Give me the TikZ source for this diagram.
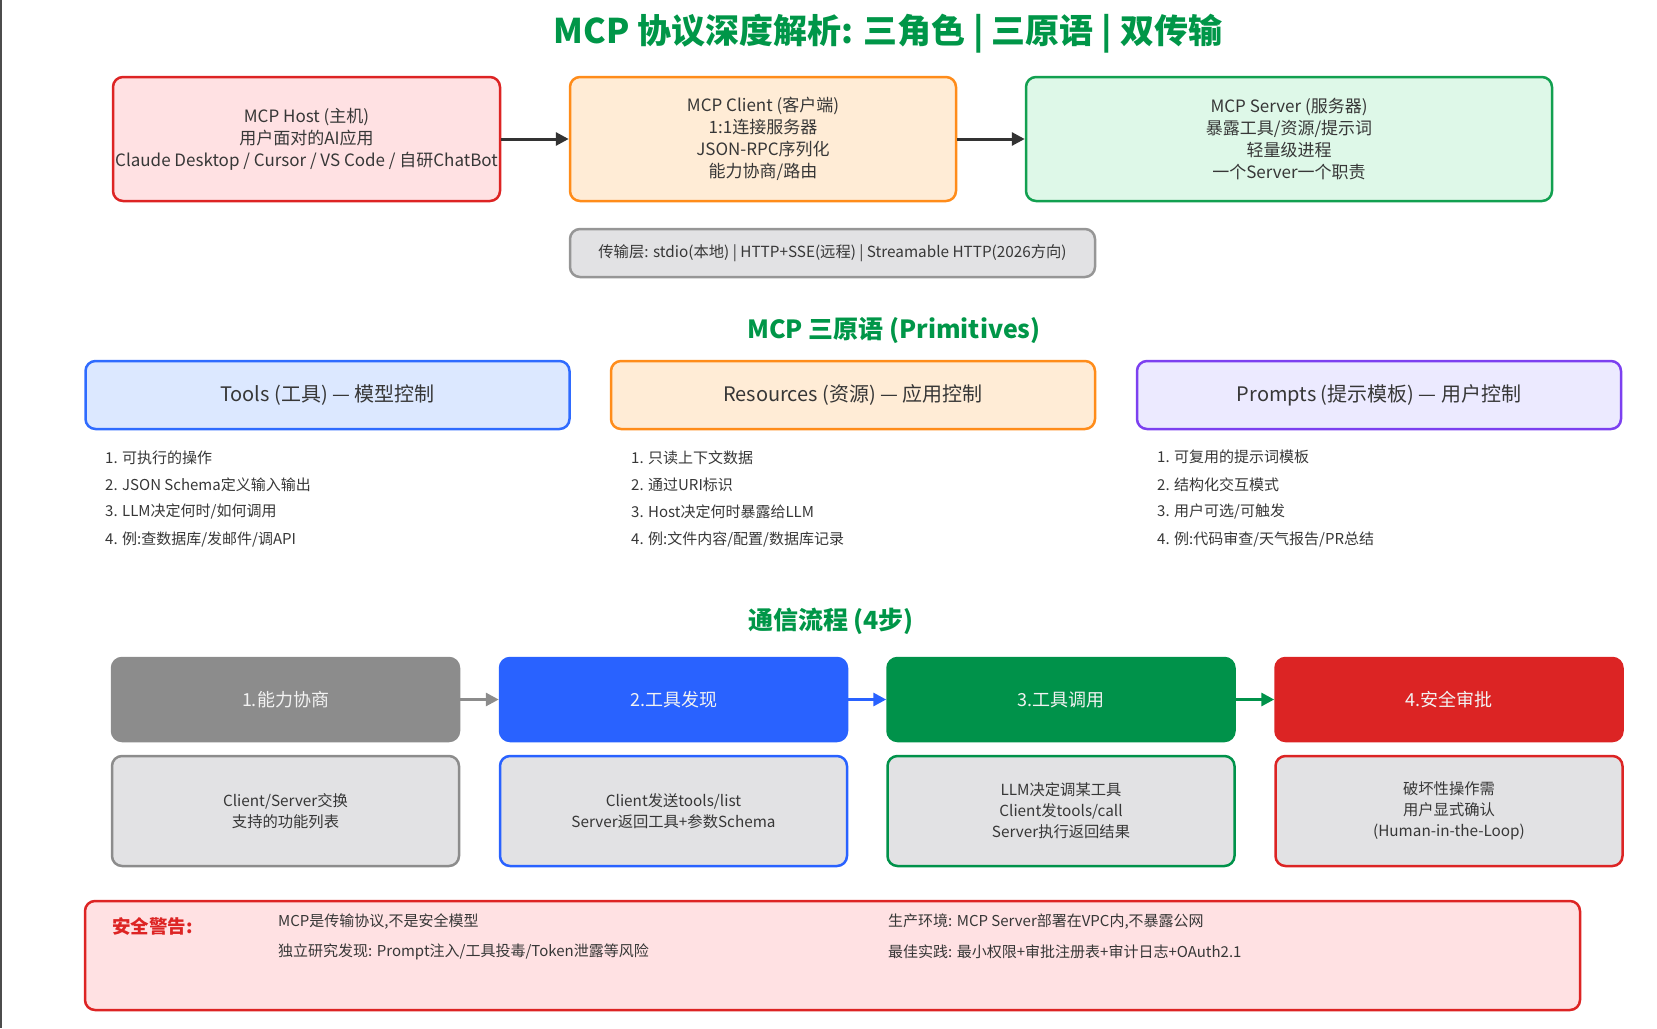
\documentclass[tikz,border=0pt]{standalone}
\usepackage{fontspec}
\setmainfont{Noto Sans CJK SC}
\usetikzlibrary{arrows.meta,positioning}
\definecolor{titlegreen}{RGB}{0,150,72}
\definecolor{txtgray}{RGB}{55,55,55}
\definecolor{hostred}{RGB}{221,36,36}
\definecolor{hostfill}{RGB}{255,225,227}
\definecolor{clientorange}{RGB}{255,140,26}
\definecolor{clientfill}{RGB}{255,236,214}
\definecolor{servergreen}{RGB}{18,160,80}
\definecolor{serverfill}{RGB}{222,248,232}
\definecolor{toolblue}{RGB}{47,107,255}
\definecolor{toolfill}{RGB}{220,232,255}
\definecolor{promptpurple}{RGB}{124,64,240}
\definecolor{promptfill}{RGB}{236,234,255}
\definecolor{stepgray}{RGB}{140,140,140}
\definecolor{stepblue}{RGB}{41,98,255}
\definecolor{stepgreen}{RGB}{0,146,74}
\definecolor{stepred}{RGB}{220,36,36}
\definecolor{descfill}{RGB}{226,226,228}
\definecolor{linegray}{RGB}{150,150,150}
\tikzset{
	box/.style={draw, rounded corners=10pt, line width=2.5pt, align=center, text=txtgray, inner sep=0pt, font=\fontsize{17}{22}\selectfont},
	rolebox/.style={box, minimum height=124pt},
	primbox/.style={box, minimum width=484pt, minimum height=68pt, font=\fontsize{20}{24}\selectfont},
	stepbox/.style={box, minimum width=347pt, minimum height=83pt, text={rgb,255:red,242;green,242;blue,242}, font=\fontsize{18}{22}\selectfont},
	descbox/.style={box, fill=descfill, minimum width=347pt, minimum height=110pt, font=\fontsize{15.3}{21}\selectfont},
	sectitle/.style={text=titlegreen, font=\fontsize{25}{30}\selectfont\bfseries},
	item/.style={anchor=west, text=txtgray, inner sep=0pt, font=\fontsize{15}{18}\selectfont},
	flow/.style={line width=3pt, -{Triangle[length=13pt,width=13pt]}}
}
\begin{document}
\begin{tikzpicture}[x=1pt,y=-1pt]
	\useasboundingbox (0,0) rectangle (1657,1028);
	\draw[line width=1.5pt, black!70] (1,0) -- (1,1028);
	\node[text=titlegreen, font=\fontsize{34}{40}\selectfont\bfseries] (title) at (888,34) {MCP 协议深度解析: 三角色 | 三原语 | 双传输};

	\node[rolebox, draw=hostred, fill=hostfill, minimum width=387pt] (host) at (306.5,139) {MCP Host (主机)\\用户面对的AI应用\\Claude Desktop / Cursor / VS Code / 自研ChatBot};
	\node[rolebox, draw=clientorange, fill=clientfill, minimum width=386pt] (client) at (763,139) {MCP Client (客户端)\\1:1连接服务器\\JSON-RPC序列化\\能力协商/路由};
	\node[rolebox, draw=servergreen, fill=serverfill, minimum width=526pt] (server) at (1289,139) {MCP Server (服务器)\\暴露工具/资源/提示词\\轻量级进程\\一个Server一个职责};
	\draw[flow, black!80] (host) -- (client);
	\draw[flow, black!80] (client) -- (server);
	\node[box, draw=linegray, fill=descfill, minimum width=525pt, minimum height=48pt, font=\fontsize{15.3}{18}\selectfont] (transport) at (832.5,253) {传输层: stdio(本地) | HTTP+SSE(远程) | Streamable HTTP(2026方向)};

	\node[sectitle] (primtitle) at (894,330) {MCP 三原语 (Primitives)};
	\node[primbox, draw=toolblue, fill=toolfill] (tools) at (327.5,395) {Tools (工具) — 模型控制};
	\node[primbox, draw=clientorange, fill=clientfill] (resources) at (853,395) {Resources (资源) — 应用控制};
	\node[primbox, draw=promptpurple, fill=promptfill] (prompts) at (1379,395) {Prompts (提示模板) — 用户控制};
	\foreach \t [count=\i] in {1. 可执行的操作, 2. JSON Schema定义输入输出, 3. LLM决定何时/如何调用, 4. 例:查数据库/发邮件/调API}
		\node[item] (tool\i) at (105,430+27.3*\i) {\t};
	\foreach \t [count=\i] in {1. 只读上下文数据, 2. 通过URI标识, 3. Host决定何时暴露给LLM, 4. 例:文件内容/配置/数据库记录}
		\node[item] (res\i) at (631,430+27.3*\i) {\t};
	\foreach \t [count=\i] in {1. 可复用的提示词模板, 2. 结构化交互模式, 3. 用户可选/可触发, 4. 例:代码审查/天气报告/PR总结}
		\node[item] (prm\i) at (1157,430+27.3*\i) {\t};

	\node[sectitle] (flowtitle) at (831,621) {通信流程 (4步)};
	\node[stepbox, draw=stepgray, fill=stepgray] (step1) at (285.5,699.5) {1.能力协商};
	\node[stepbox, draw=stepblue, fill=stepblue] (step2) at (673.5,699.5) {2.工具发现};
	\node[stepbox, draw=stepgreen, fill=stepgreen] (step3) at (1061,699.5) {3.工具调用};
	\node[stepbox, draw=stepred, fill=stepred] (step4) at (1449,699.5) {4.安全审批};
	\draw[flow, stepgray] (step1) -- (step2);
	\draw[flow, stepblue] (step2) -- (step3);
	\draw[flow, stepgreen] (step3) -- (step4);
	\node[descbox, draw=stepgray] (desc1) at (285.5,811) {Client/Server交换\\支持的功能列表};
	\node[descbox, draw=stepblue] (desc2) at (673.5,811) {Client发送tools/list\\Server返回工具+参数Schema};
	\node[descbox, draw=stepgreen] (desc3) at (1061,811) {LLM决定调某工具\\Client发tools/call\\Server执行返回结果};
	\node[descbox, draw=stepred] (desc4) at (1449,811) {破坏性操作需\\用户显式确认\\(Human-in-the-Loop)};

	\node[box, draw=hostred, fill=hostfill, minimum width=1495pt, minimum height=109pt] (warn) at (832.5,955.5) {};
	\node[item, text=hostred, font=\fontsize{18.5}{20}\selectfont\bfseries] (warnhead) at (112,926) {安全警告:};
	\node[item] (warn1) at (278,922) {MCP是传输协议,不是安全模型};
	\node[item] (warn2) at (278,952) {独立研究发现: Prompt注入/工具投毒/Token泄露等风险};
	\node[item] (warn3) at (888,922) {生产环境: MCP Server部署在VPC内,不暴露公网};
	\node[item] (warn4) at (888,952) {最佳实践: 最小权限+审批注册表+审计日志+OAuth2.1};
\end{tikzpicture}
\end{document}
